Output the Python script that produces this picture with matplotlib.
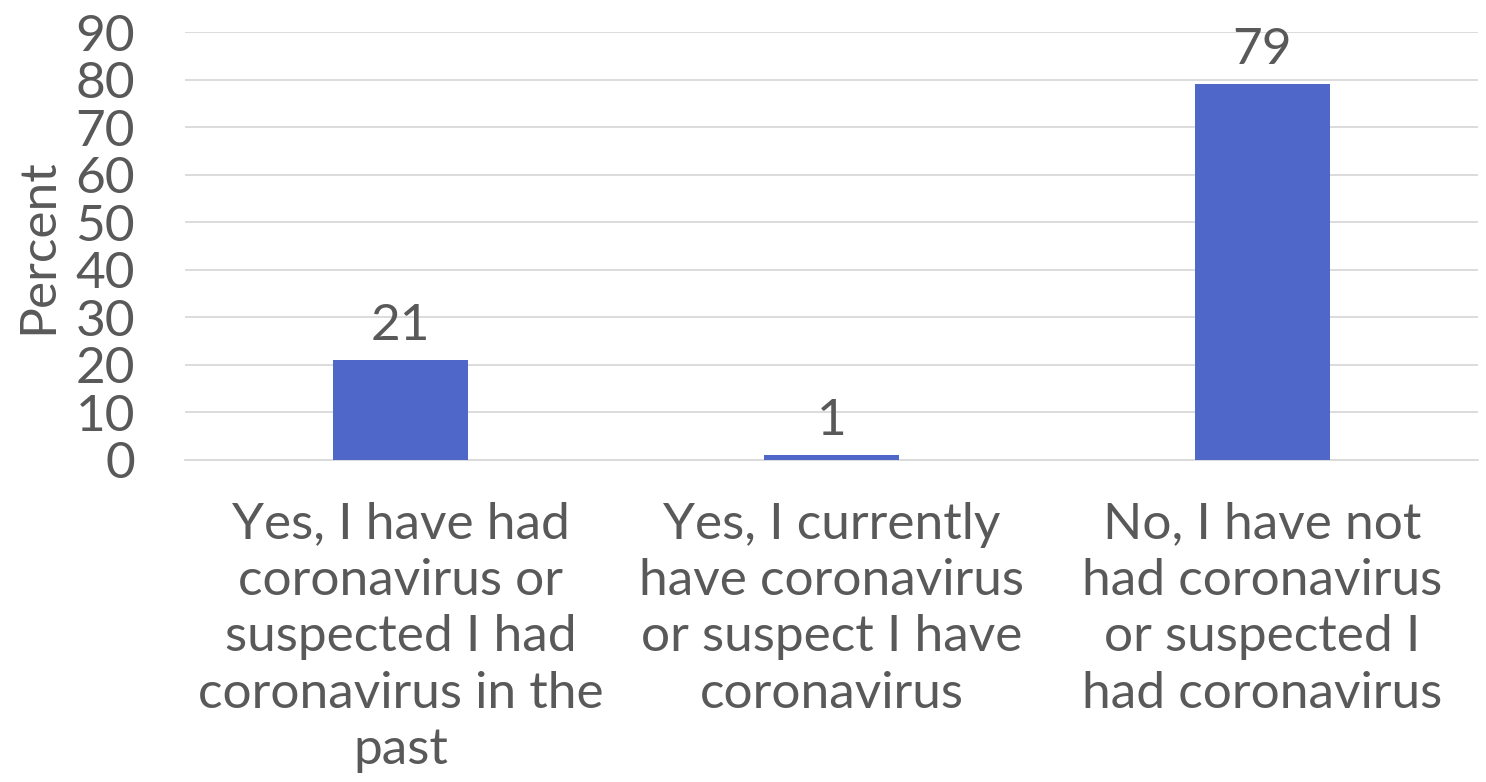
import matplotlib.pyplot as plt

categories = [
    "Yes, I have had\ncoronavirus or\nsuspected I had\ncoronavirus in the\npast",
    "Yes, I currently\nhave coronavirus\nor suspect I have\ncoronavirus",
    "No, I have not\nhad coronavirus\nor suspected I\nhad coronavirus",
]
values = [21, 1, 79]

plt.rcParams['font.family'] = ['Lato', 'DejaVu Sans']
text_color = '#595959'
fs = 37

fig = plt.figure(figsize=(14.86, 7.82), dpi=100)
ax = fig.add_axes([0.1245, 0.4118, 0.8701, 0.5472])

x = range(len(values))
bars = ax.bar(x, values, width=0.313, color='#4e67c8', zorder=3)
for b, v in zip(bars, values):
    ax.text(b.get_x() + b.get_width() / 2, v + 4.2, str(v), ha='center', va='baseline',
            fontsize=fs, color=text_color)

ax.set_xlim(-0.5, 2.5)
ax.set_ylim(0, 90)
ax.set_yticks(range(0, 91, 10))
ax.yaxis.grid(True, color='#d9d9d9', linewidth=1.3, zorder=0)
ax.set_xticks(list(x))
ax.set_xticklabels(categories, fontsize=fs, color=text_color, linespacing=1.28)
ax.tick_params(axis='y', labelsize=fs, labelcolor=text_color, length=0, pad=36)
ax.tick_params(axis='x', length=0, pad=30)
for s in ['top', 'right', 'left']:
    ax.spines[s].set_visible(False)
ax.spines['bottom'].set_color('#d9d9d9')
ax.spines['bottom'].set_linewidth(1.3)
ax.set_ylabel('Percent', fontsize=fs, color=text_color, labelpad=10)

fig.savefig('out.png', dpi=100)
